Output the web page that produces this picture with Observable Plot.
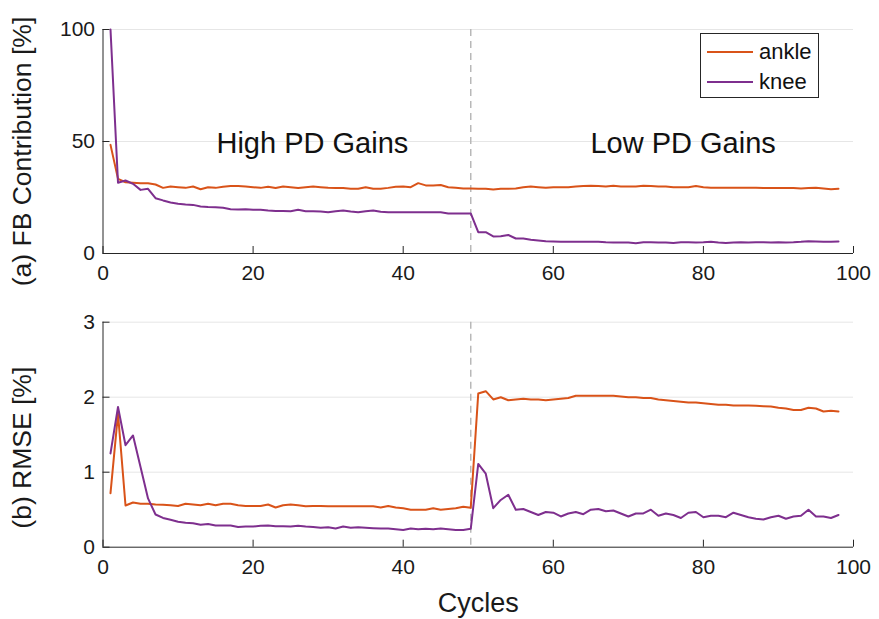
<!DOCTYPE html>
<html>
<head>
<meta charset="utf-8">
<script src="https://cdn.jsdelivr.net/npm/d3@7"></script>
<script src="https://cdn.jsdelivr.net/npm/@observablehq/plot@0.6"></script>
<style>
  html, body { margin: 0; padding: 0; background: #fff; }
  #fig { position: relative; width: 879px; height: 619px; font-family: "Liberation Sans", Arial, Helvetica, sans-serif; color: #262626; }
  #fig svg { display: block; }
  #legend { position: absolute; left: 700px; top: 33px; width: 119px; height: 65px; border: 1px solid #262626; background: #fff; box-sizing: border-box; }
  .lg-item { position: absolute; left: 6px; height: 26px; display: flex; align-items: center; font-size: 22px; color: #111; }
  .lg-item span.sw { display: inline-block; width: 46px; height: 2px; margin-right: 6px; }
</style>
</head>
<body>
<div id="fig"></div>
<script>
// ---- data ----
const cycles = d3.range(1, 99);
const ankleFB = [48.5,33.3,31.8,31.6,31.4,31.4,30.8,29.3,29.9,29.6,29.3,29.9,28.7,29.6,29.3,29.8,30.1,30.1,29.9,29.6,
  29.3,29.8,29.2,29.9,29.6,29.2,29.6,29.9,29.6,29.3,29.2,29.2,28.9,28.9,29.6,28.9,28.9,29.3,29.8,29.9,
  29.6,31.4,30.4,30.4,30.6,29.6,29.3,29.0,29.0,28.9,28.9,28.6,28.9,28.9,29.0,29.6,29.9,29.6,29.3,29.6,
  29.6,29.6,29.9,30.1,30.2,30.1,29.9,30.2,29.9,29.9,29.9,30.2,30.1,29.9,29.9,29.6,29.6,29.6,30.1,29.6,
  29.3,29.3,29.3,29.3,29.3,29.3,29.3,29.2,29.2,29.2,29.2,29.2,29.0,29.2,29.3,29.0,28.7,28.9];
const kneeFB = [100,31.6,32.6,31.1,28.4,28.9,24.7,23.7,22.8,22.2,21.9,21.7,21.0,20.8,20.7,20.4,19.8,19.6,19.8,19.5,
  19.5,19.2,19.0,19.0,18.9,19.5,18.9,18.9,18.7,18.4,18.9,19.2,18.7,18.4,18.9,19.2,18.6,18.4,18.4,18.4,
  18.4,18.4,18.4,18.4,18.4,17.9,17.9,17.9,17.9,9.5,9.5,7.6,7.7,8.3,6.7,6.7,6.1,5.8,5.5,5.4,
  5.2,5.2,5.2,5.2,5.2,5.2,5.0,4.9,4.9,4.9,4.6,5.0,5.0,4.9,4.9,4.7,5.0,5.0,4.9,5.0,
  5.2,4.9,4.7,4.9,5.0,4.9,5.0,5.0,4.9,5.0,4.9,5.0,5.2,5.5,5.4,5.2,5.2,5.4];
const ankleRMSE = [0.72,1.78,0.556,0.596,0.58,0.58,0.57,0.565,0.56,0.55,0.58,0.57,0.56,0.58,0.56,0.58,0.58,0.56,0.55,0.55,
  0.55,0.57,0.53,0.56,0.57,0.56,0.545,0.55,0.55,0.545,0.545,0.545,0.545,0.545,0.545,0.545,0.53,0.55,0.53,0.52,
  0.50,0.50,0.50,0.52,0.50,0.51,0.52,0.54,0.525,2.05,2.08,1.97,2.0,1.96,1.97,1.98,1.97,1.97,1.96,1.97,
  1.98,1.99,2.02,2.02,2.02,2.02,2.02,2.02,2.01,2.0,2.0,1.99,1.99,1.97,1.96,1.95,1.94,1.93,1.93,1.92,
  1.91,1.90,1.90,1.89,1.89,1.89,1.885,1.88,1.875,1.86,1.85,1.83,1.83,1.86,1.85,1.81,1.82,1.81];
const kneeRMSE = [1.25,1.87,1.36,1.49,1.07,0.65,0.436,0.39,0.365,0.34,0.325,0.32,0.30,0.31,0.29,0.29,0.29,0.27,0.275,0.275,
  0.285,0.29,0.28,0.28,0.275,0.285,0.275,0.27,0.26,0.267,0.25,0.275,0.26,0.267,0.26,0.254,0.25,0.25,0.24,0.23,
  0.25,0.24,0.245,0.24,0.25,0.24,0.23,0.23,0.245,1.11,0.98,0.52,0.63,0.70,0.50,0.51,0.47,0.43,0.47,0.46,
  0.41,0.45,0.47,0.44,0.50,0.51,0.48,0.49,0.45,0.41,0.45,0.45,0.50,0.42,0.45,0.43,0.39,0.46,0.47,0.40,
  0.42,0.42,0.40,0.46,0.43,0.40,0.38,0.37,0.40,0.42,0.38,0.41,0.42,0.50,0.41,0.41,0.39,0.43];
const seriesNames = ["ankle", "knee"];
const seriesColors = ["#D95319", "#7E2F8E"];
const xTicks = [0, 20, 40, 60, 80, 100];
const yTicksFB = [0, 50, 100];
const yTicksRMSE = [0, 1, 2, 3];
const switchCycle = [49];
const phaseLabels = ["High PD Gains", "Low PD Gains"];
const phaseLabelX = [27.9, 77.3];
const phaseLabelY = [49, 49];
const yLabelFB = "(a) FB Contribution [%]";
const yLabelRMSE = "(b) RMSE [%]";
const xLabel = "Cycles";

// ---- build tables ----
function table(a, k) {
  return cycles.flatMap((c, i) => [
    {cycle: c, value: a[i], series: seriesNames[0]},
    {cycle: c, value: k[i], series: seriesNames[1]}
  ]);
}
const fbData = table(ankleFB, kneeFB);
const rmseData = table(ankleRMSE, kneeRMSE);
const annotations = phaseLabels.map((t, i) => ({text: t, x: phaseLabelX[i], y: phaseLabelY[i]}));

const W = 879, ML = 102.5, MR = 26;
const axisColor = "#262626";
const font = '"Liberation Sans", Arial, Helvetica, sans-serif';

function panel({data, height, mt, mb, yDomain, yTicks, yLabel, yLabelShift, showXLabel, notes}) {
  const innerH = height - mt - mb;
  const innerW = W - ML - MR;
  const marks = [
    Plot.ruleY(yTicks.filter(d => d !== 0), {stroke: "#e6e6e6", strokeWidth: 1}),
    Plot.ruleX(switchCycle, {stroke: "#b8b8b8", strokeWidth: 1.5, strokeDasharray: "7,5"}),
    Plot.line(data, {x: "cycle", y: "value", z: "series", stroke: "series", strokeWidth: 2, strokeLinejoin: "round"}),
    Plot.ruleX([xTicks[0]], {stroke: axisColor, strokeWidth: 1}),
    Plot.ruleY([yTicks[0]], {stroke: axisColor, strokeWidth: 1}),
    Plot.tickX(xTicks, {x: d => d, stroke: axisColor, insetTop: innerH - 7}),
    Plot.tickY(yTicks, {y: d => d, stroke: axisColor, insetRight: innerW - 7}),
    Plot.axisX({ticks: xTicks, tickFormat: d3.format("d"), tickSize: 0, tickPadding: 12, fontSize: 21, fill: "#1a1a1a", label: null}),
    Plot.axisY({ticks: yTicks, tickFormat: d3.format("d"), tickSize: 0, tickPadding: 8, fontSize: 21, fill: "#1a1a1a", label: null}),
    Plot.text([yLabel], {frameAnchor: "left", dx: -80, dy: yLabelShift, rotate: -90, text: d => d, fontSize: 26.5, fill: "#1a1a1a", textAnchor: "middle", lineAnchor: "middle"})
  ];
  if (notes) marks.push(Plot.text(notes, {x: "x", y: "y", text: "text", fontSize: 29, fill: "#111", lineAnchor: "middle"}));
  if (showXLabel) marks.push(Plot.text([xLabel], {frameAnchor: "bottom", dy: 56, text: d => d, fontSize: 27, fill: "#1a1a1a", lineAnchor: "middle"}));
  return Plot.plot({
    width: W, height,
    marginLeft: ML, marginRight: MR, marginTop: mt, marginBottom: mb,
    style: {fontFamily: font, background: "white", overflow: "visible"},
    x: {domain: [0, 100]},
    y: {domain: yDomain},
    color: {domain: seriesNames, range: seriesColors},
    marks
  });
}

const fig = document.getElementById("fig");
fig.append(panel({data: fbData, height: 290, mt: 29, mb: 37, yDomain: [0, 100], yTicks: yTicksFB, yLabel: yLabelFB, yLabelShift: 10, showXLabel: false, notes: annotations}));
fig.append(panel({data: rmseData, height: 329, mt: 31.7, mb: 72.3, yDomain: [0, 3], yTicks: yTicksRMSE, yLabel: yLabelRMSE, yLabelShift: 13, showXLabel: true}));

// legend
const lg = document.createElement("div");
lg.id = "legend";
seriesNames.forEach((n, i) => {
  const it = document.createElement("div");
  it.className = "lg-item";
  it.style.top = (5 + i * 30) + "px";
  const sw = document.createElement("span");
  sw.className = "sw";
  sw.style.background = seriesColors[i];
  it.append(sw, document.createTextNode(n));
  lg.append(it);
});
fig.append(lg);
</script>
</body>
</html>
